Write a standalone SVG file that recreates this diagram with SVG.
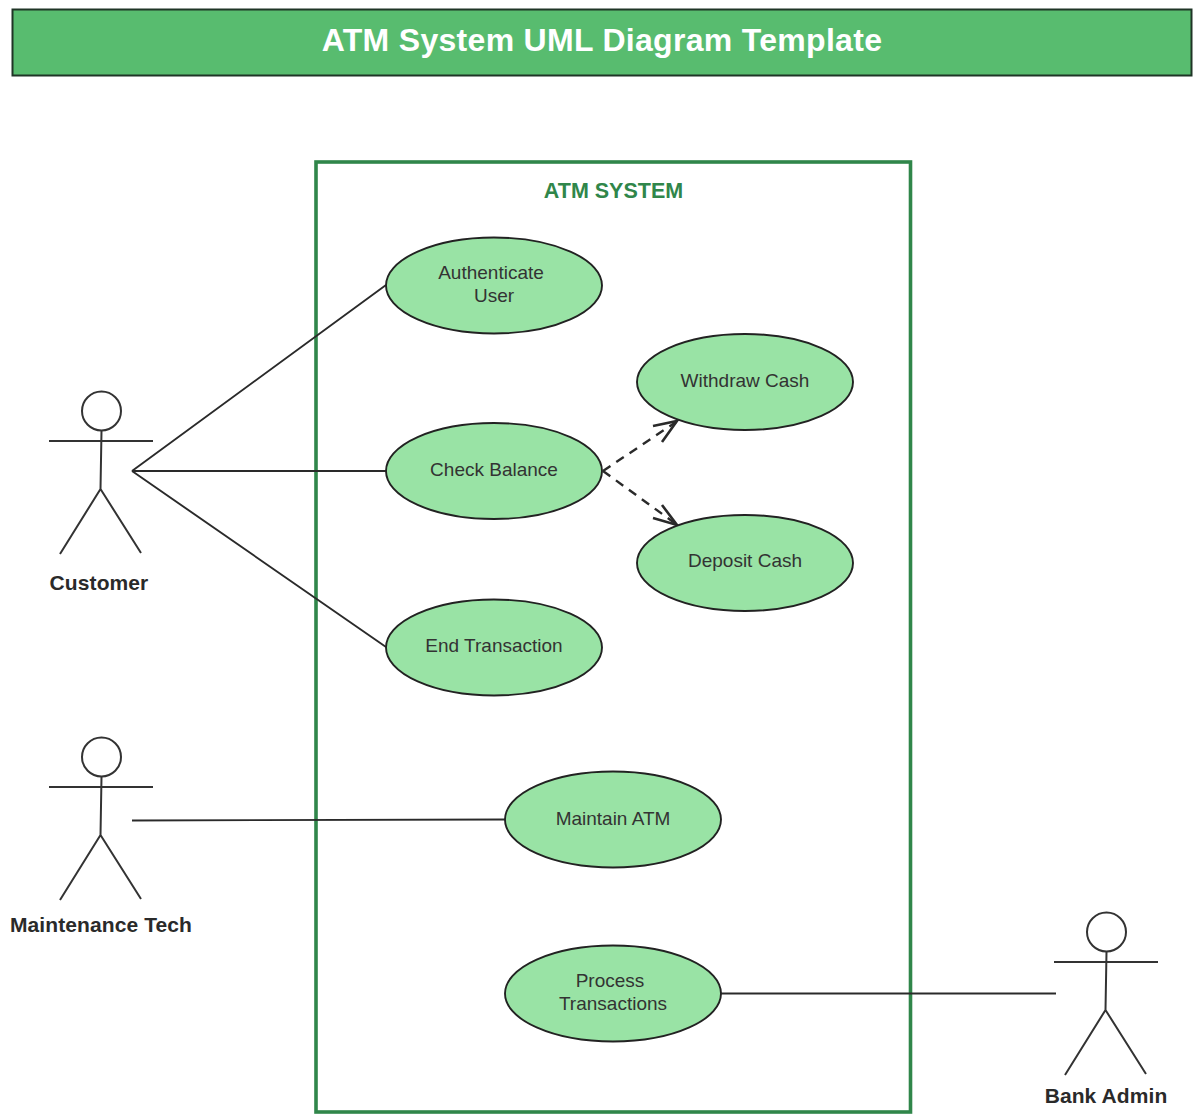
<svg xmlns="http://www.w3.org/2000/svg" width="1200" height="1120" viewBox="0 0 1200 1120">
<style>
text{font-family:"Liberation Sans",Arial,sans-serif;text-anchor:middle}
.uc ellipse{fill:#99e3a5;stroke:#222;stroke-width:1.9}
.uc text{font-size:19px;fill:#333}
.actor path,.actor circle{fill:none;stroke:#333;stroke-width:2}
.actor text{font-size:21px;font-weight:bold;fill:#2a2a2a;letter-spacing:.1px}
.c{fill:none;stroke:#2a2a2a;stroke-width:1.9}
.d{stroke-dasharray:9 7;stroke-width:2.4}
.h{stroke-width:2.6}
</style>
<rect width="1200" height="1120" fill="#fff"/>
<g id="title"><rect x="12.500" y="9.500" width="1179" height="66" fill="#58bc6f" stroke="#1f3526" stroke-width="2"/>
<text x="602" y="51" font-size="32" font-weight="bold" fill="#fff" letter-spacing=".3">ATM System UML Diagram Template</text></g>
<g id="system"><rect x="316" y="162" width="594.500" height="950" fill="none" stroke="#30864a" stroke-width="3.600"/>
<text x="613.500" y="198" font-size="21.500" font-weight="bold" fill="#30864a">ATM SYSTEM</text></g>
<g id="connectors">
<path class="c" d="M132 471L386 285M132 471H386M132 471L386 647M132 820.500L505 819.500M721 993.500H1056"/>
<path class="c d" d="M603 471L676 422M603 471L676 524"/>
<path class="c h" d="M653 426L677 421L662 442M662 505L677 525L653 518"/>
</g>
<g id="authenticate" class="uc"><ellipse cx="494" cy="285.500" rx="108" ry="48"/><text x="491" y="279">Authenticate</text><text x="494" y="302">User</text></g>
<g id="check-balance" class="uc"><ellipse cx="494" cy="471" rx="108" ry="48"/><text x="494" y="476">Check Balance</text></g>
<g id="end-transaction" class="uc"><ellipse cx="494" cy="647.500" rx="108" ry="48"/><text x="494" y="652">End Transaction</text></g>
<g id="withdraw" class="uc"><ellipse cx="745" cy="382" rx="108" ry="48"/><text x="745" y="387">Withdraw Cash</text></g>
<g id="deposit" class="uc"><ellipse cx="745" cy="563" rx="108" ry="48"/><text x="745" y="567">Deposit Cash</text></g>
<g id="maintain" class="uc"><ellipse cx="613" cy="819.500" rx="108" ry="48"/><text x="613" y="825">Maintain ATM</text></g>
<g id="process" class="uc"><ellipse cx="613" cy="993.500" rx="108" ry="48"/><text x="610" y="987">Process</text><text x="613" y="1010">Transactions</text></g>
<g id="customer" class="actor"><circle cx="101.500" cy="411" r="19.500"/><path d="M49 441H153M101.500 431L100.500 489M100.500 489L60 554M100.500 489L141 553"/><text x="99" y="590">Customer</text></g>
<g id="tech" class="actor"><circle cx="101.500" cy="757" r="19.500"/><path d="M49 787H153M101.500 777L100.500 835M100.500 835L60 900M100.500 835L141 899"/><text x="101" y="932">Maintenance Tech</text></g>
<g id="admin" class="actor"><circle cx="1106.500" cy="932" r="19.500"/><path d="M1054 962H1158M1106.500 952L1105.500 1010M1105.500 1010L1065 1075M1105.500 1010L1146 1074"/><text x="1106" y="1103">Bank Admin</text></g>
</svg>
